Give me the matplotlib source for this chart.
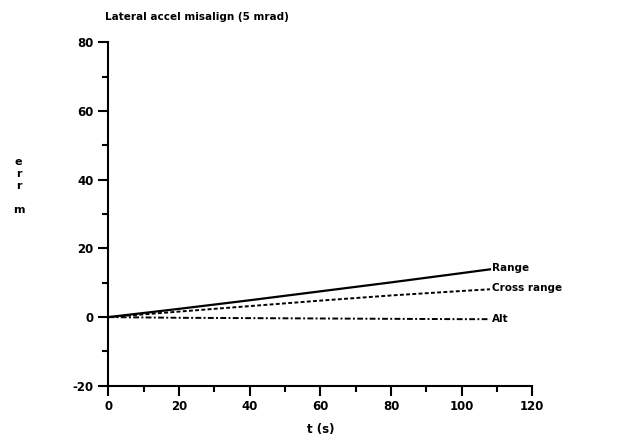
import matplotlib.pyplot as plt
import numpy as np

plt.rcParams['axes.unicode_minus'] = False

# values
t = [0, 20, 40, 60, 80, 100, 108]
range_err = [0, 2.4, 4.9, 7.5, 10.1, 12.8, 13.9]
cross_err = [0, 1.6, 3.2, 4.8, 6.3, 7.6, 8.1]
alt_err = [0, -0.2, -0.3, -0.4, -0.5, -0.6, -0.6]

fig = plt.figure(figsize=(6.19, 4.44), dpi=100)
ax = fig.add_axes([0.175, 0.131, 0.685, 0.774])

ax.plot(t, range_err, color='black', lw=1.6)
ax.plot(t, cross_err, color='black', lw=1.4, linestyle=(0, (2, 1.2)))
ax.plot(t, alt_err, color='black', lw=1.4, linestyle=(0, (3, 1.2, 1, 1.2)))

ax.text(t[-1] + 0.5, range_err[-1] + 0.3, 'Range', fontsize=7.5, fontweight='bold', va='center')
ax.text(t[-1] + 0.5, cross_err[-1] + 0.5, 'Cross range', fontsize=7.5, fontweight='bold', va='center')
ax.text(t[-1] + 0.5, alt_err[-1], 'Alt', fontsize=7.5, fontweight='bold', va='center')

ax.set_xlim(0, 120)
ax.set_ylim(-20, 80)
ax.set_xticks(np.arange(0, 121, 20))
ax.set_yticks(np.arange(-20, 81, 20))
ax.set_xticks(np.arange(10, 120, 20), minor=True)
ax.set_yticks(np.arange(-10, 80, 20), minor=True)
for s in ['top', 'right']:
    ax.spines[s].set_visible(False)
for s in ['left', 'bottom']:
    ax.spines[s].set_linewidth(1.5)
ax.tick_params(which='major', direction='out', length=7, width=1.5, labelsize=8.5)
ax.tick_params(which='minor', direction='out', length=4, width=1.5)
for lbl in ax.get_xticklabels() + ax.get_yticklabels():
    lbl.set_fontweight('bold')

ax.set_xlabel('t (s)', fontsize=8.5, fontweight='bold', labelpad=7)
fig.text(0.17, 0.955, 'Lateral accel misalign (5 mrad)', fontsize=7.5, fontweight='bold')
fig.text(0.03, 0.58, 'e\nr\nr\n\nm', fontsize=8, fontweight='bold', ha='center', va='center', linespacing=1.25)

fig.savefig('out.png', dpi=100)
